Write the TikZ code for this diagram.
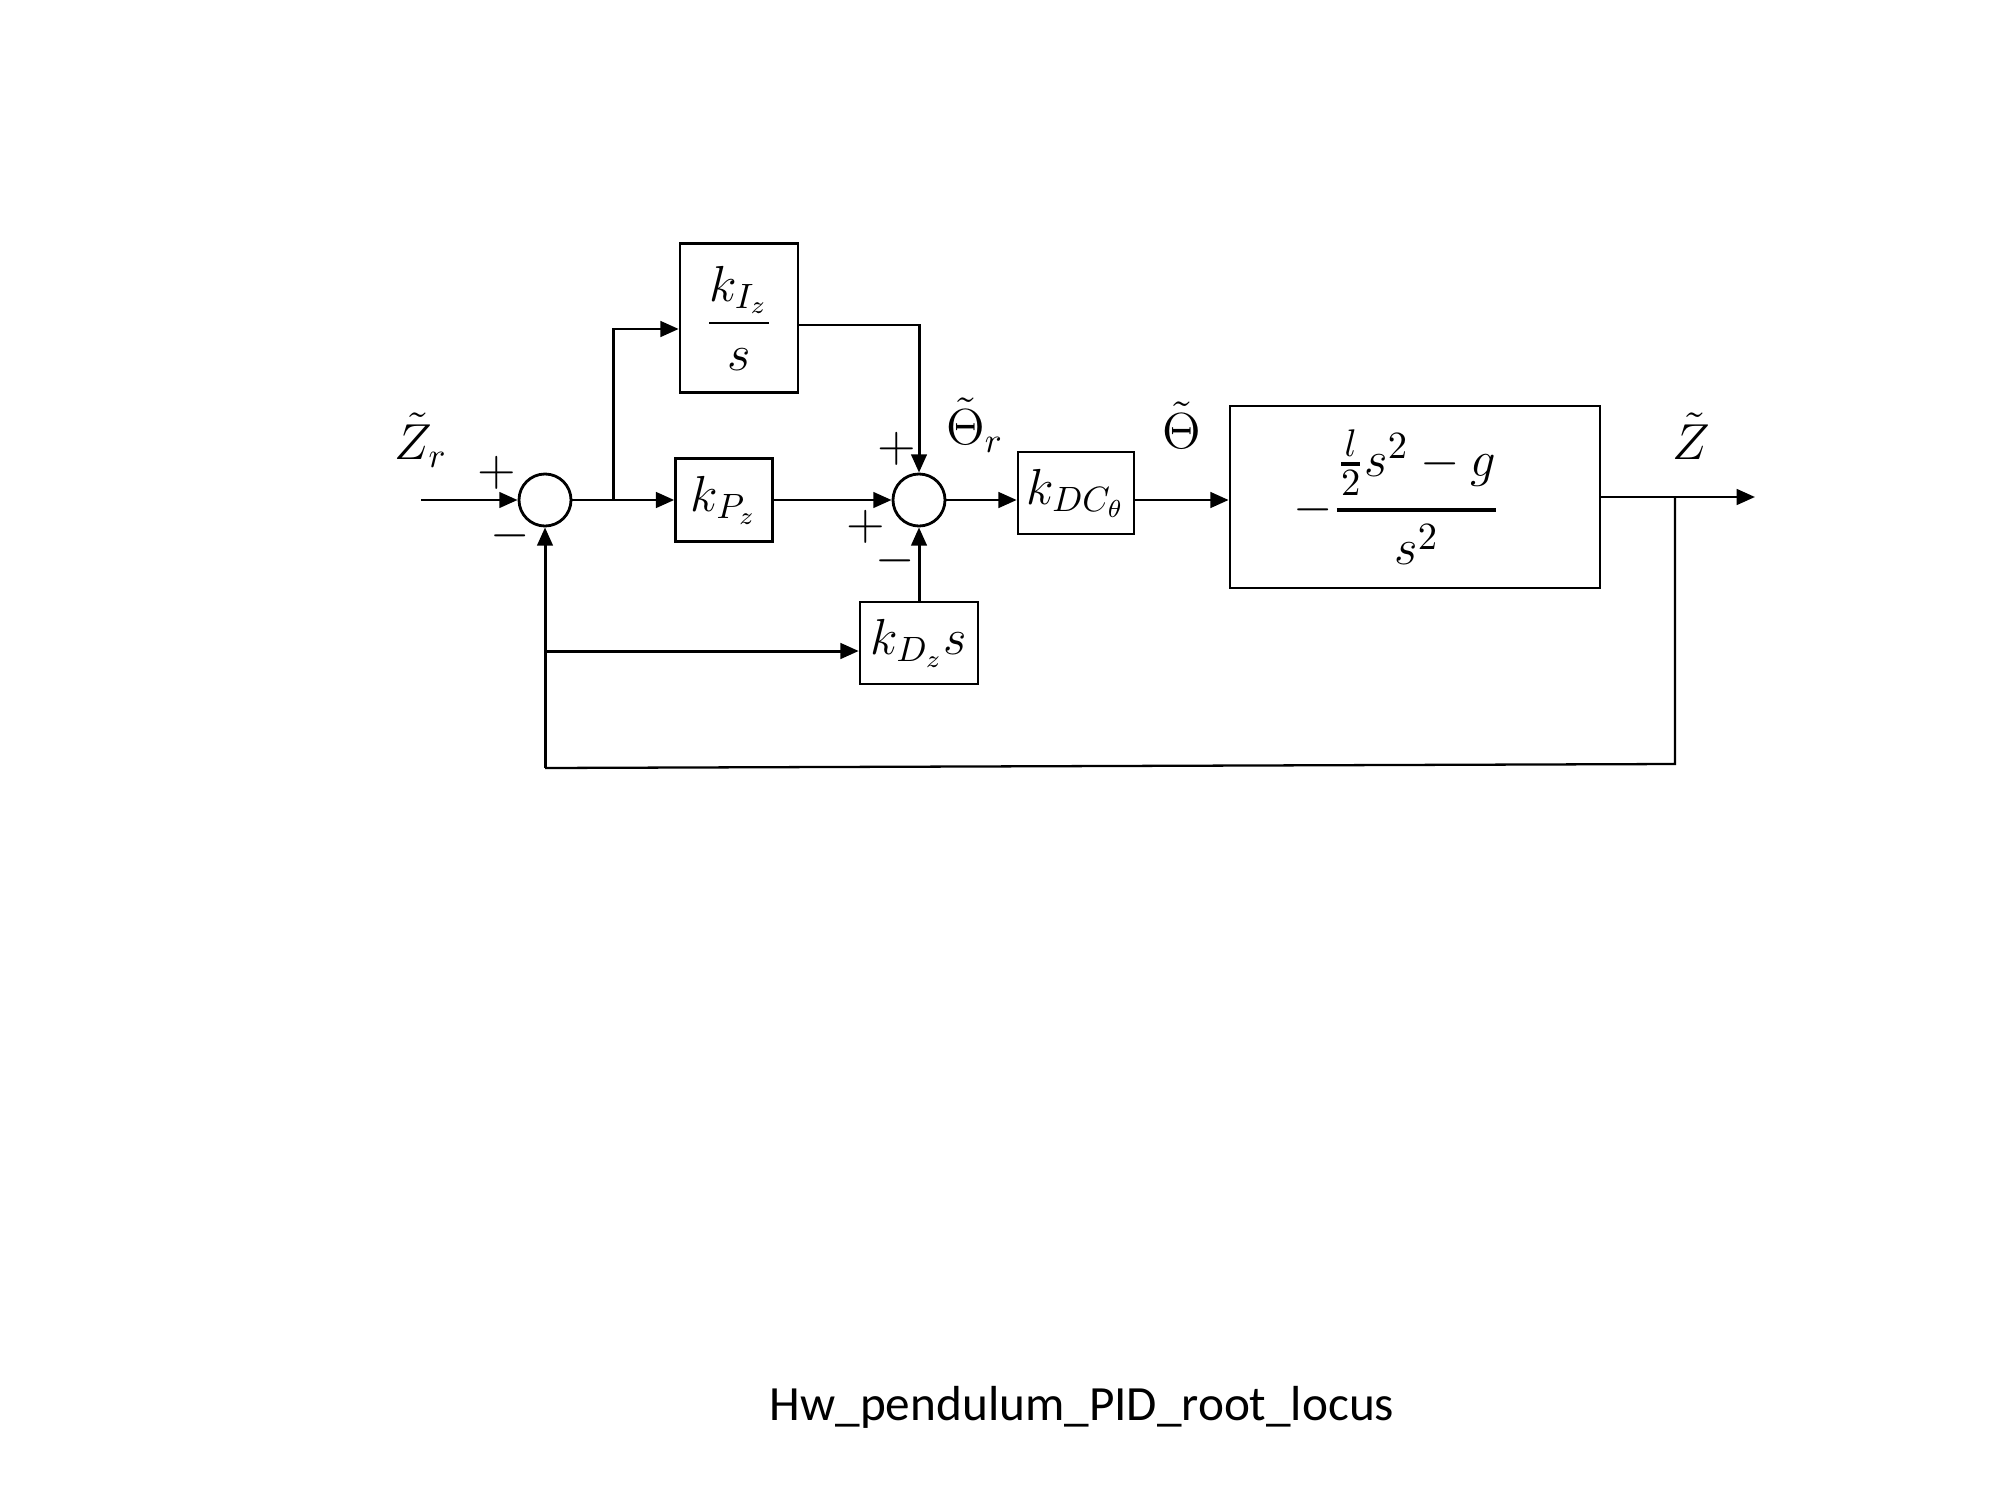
\documentclass[tikz,border=0pt]{standalone}
\usepackage{amsmath}
\usepackage{fontspec}
\newfontfamily\captionfont{Carlito}
\usetikzlibrary{arrows.meta,calc}
\begin{document}
\begin{tikzpicture}[x=0.01cm,y=-0.01cm,
  blockbox/.style={draw,line width=0.7pt,inner sep=0pt,font=\fontsize{14}{16}\selectfont},
  sumnode/.style={draw,circle,line width=0.8pt,minimum size=0.52cm,inner sep=0pt},
  sig/.style={line width=0.85pt,-{Triangle[length=5.2pt,width=4.4pt]}},
  wire/.style={line width=0.85pt},
  thinwire/.style={line width=0.65pt},
  lbl/.style={font=\fontsize{14}{16}\selectfont,inner sep=0pt}]
\fill[white] (0,0) rectangle (2000,1500);
\useasboundingbox (0,0) rectangle (2000,1500);

% summing junctions
\node[sumnode] (s1) at (545,500) {};
\node[sumnode] (s2) at (919,500) {};

% blocks
\node[blockbox,minimum width=1.18cm,minimum height=1.49cm] (ki) at (739,318) {$\displaystyle\frac{k_{I_z}}{s}$};
\node[blockbox,minimum width=0.97cm,minimum height=0.83cm] (kp) at (724,500) {$k_{P_z}$};
\node[blockbox,minimum width=1.16cm,minimum height=0.82cm] (kdc) at (1076,493) {$k_{DC_\theta}$};
\node[blockbox,minimum width=3.70cm,minimum height=1.82cm,font=\fontsize{15.5}{17}\selectfont] (plant) at (1415,497)
  {$-\genfrac{}{}{1.2pt}{0}{\genfrac{}{}{1.2pt}{}{l}{2}s^2-g}{s^2}\kern0.36cm$};
\node[blockbox,minimum width=1.18cm,minimum height=0.82cm] (kd) at (919,643) {$k_{D_z}s$};

% helper points
\coordinate (in) at (421,500);
\coordinate (br) at (613,500);
\coordinate (out) at (1755,497);
\coordinate (tap) at (1675,497);
\coordinate (fbr) at (1675,764);
\coordinate (fbl) at (545,768);
\coordinate (kdt) at (545,651);

% forward path
\draw[sig] (in) -- (s1.west);
\draw[wire] (s1.east) -- (br);
\draw[sig] (br) -- (kp.west);
\draw[sig] (br) |- ($(ki.west)+(0,11)$);
\draw[sig] (kp.east) -- (s2.west);
\draw[sig] ($(ki.east)+(0,7)$) -| (s2.north);
\draw[sig] (kd.north) -- (s2.south);
\draw[sig] (s2.east) -- (s2.east -| kdc.west);
\draw[sig] (kdc.east |- s2) -- (plant.west |- s2);
\draw[sig] (plant.east) -- (out);

% feedback paths
\draw[thinwire] (tap) -- (fbr) -- (fbl);
\draw[sig] (fbl) -- (s1.south);
\draw[sig] (kdt) -- (kdt -| kd.west);

% signal labels
\node[lbl] (zr) at (421,440) {$\tilde{Z}_r$};
\node[lbl] (thr) at (975,425) {$\tilde{\Theta}_r$};
\node[lbl] (th) at (1182,425) {$\tilde{\Theta}$};
\node[lbl] (zo) at (1691,436) {$\tilde{Z}$};

% signs
\node[lbl] (p1) at (497,473) {$+$};
\node[lbl] (m1) at (510,536) {$-$};
\node[lbl] (p2) at (897,449) {$+$};
\node[lbl] (p3) at (866,527) {$+$};
\node[lbl] (m2) at (895,561) {$-$};

% caption
\node[font=\captionfont\fontsize{14}{16}\selectfont,inner sep=0pt] (cap) at (1082,1407) {Hw\_pendulum\_PID\_root\_locus};
\end{tikzpicture}
\end{document}
